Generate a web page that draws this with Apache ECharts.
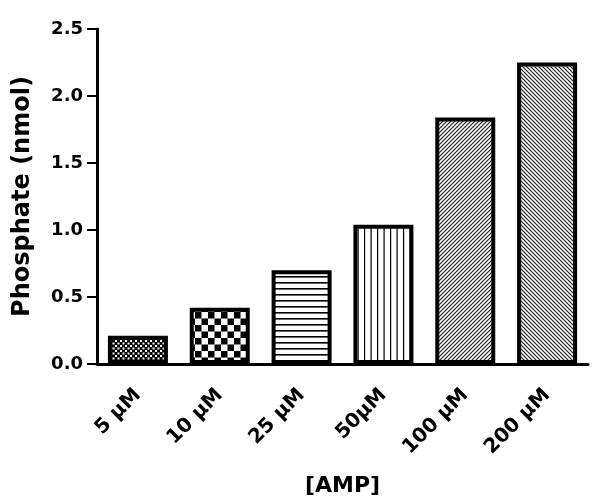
<!DOCTYPE html>
<html>
<head>
<meta charset="utf-8">
<script src="https://cdn.jsdelivr.net/npm/echarts@6/dist/echarts.min.js"></script>
<style>
  html, body { margin: 0; padding: 0; background: #fff; }
  #chart { width: 596px; height: 498px; }
</style>
</head>
<body>
<div id="chart"></div>
<script>
// AMP concentration groups and measured phosphate release
const categories = ['5 µM', '10 µM', '25 µM', '50µM', '100 µM', '200 µM'];
const phosphate = [0.21, 0.42, 0.70, 1.04, 1.84, 2.25];
const patternKinds = ['fineCheck', 'check', 'hLines', 'vLines', 'diagUp', 'diagDown'];

const FONT = '"DejaVu Sans", sans-serif';

// Build a small repeating tile for each bar fill
function makeTile(kind) {
  const c = document.createElement('canvas');
  const ctx = c.getContext('2d');
  if (kind === 'fineCheck') {
    c.width = 5; c.height = 5;
    ctx.fillStyle = '#000'; ctx.fillRect(0, 0, 5, 5);
    ctx.fillStyle = '#fff';
    ctx.fillRect(0, 0, 2, 2);
    ctx.fillRect(2.5, 2.5, 2, 2);
  } else if (kind === 'check') {
    const s = 6.5;
    c.width = 13; c.height = 13;
    ctx.fillStyle = '#fff'; ctx.fillRect(0, 0, 13, 13);
    ctx.fillStyle = '#000';
    ctx.fillRect(0, 0, s, s);
    ctx.fillRect(s, s, s, s);
  } else if (kind === 'hLines') {
    c.width = 6; c.height = 6;
    ctx.fillStyle = '#fff'; ctx.fillRect(0, 0, 6, 6);
    ctx.fillStyle = '#000'; ctx.fillRect(0, 0, 6, 1.6);
  } else if (kind === 'vLines') {
    c.width = 13; c.height = 6;
    ctx.fillStyle = '#fff'; ctx.fillRect(0, 0, 13, 6);
    ctx.fillStyle = '#000';
    ctx.fillRect(0, 0, 1.2, 6);
    ctx.fillRect(6.5, 0, 1.2, 6);
  } else {
    const n = 4;
    c.width = n; c.height = n;
    ctx.fillStyle = '#fff'; ctx.fillRect(0, 0, n, n);
    ctx.strokeStyle = '#222'; ctx.lineWidth = 1.2;
    ctx.beginPath();
    if (kind === 'diagUp') {
      ctx.moveTo(-1, n + 1); ctx.lineTo(n + 1, -1);
      ctx.moveTo(-1, 1); ctx.lineTo(1, -1);
      ctx.moveTo(n - 1, n + 1); ctx.lineTo(n + 1, n - 1);
    } else {
      ctx.moveTo(-1, -1); ctx.lineTo(n + 1, n + 1);
      ctx.moveTo(n - 1, -1); ctx.lineTo(n + 1, 1);
      ctx.moveTo(-1, n - 1); ctx.lineTo(1, n + 1);
    }
    ctx.stroke();
  }
  return c;
}

const barData = phosphate.map((v, i) => ({
  value: v,
  itemStyle: {
    color: { image: makeTile(patternKinds[i]), repeat: 'repeat' }
  }
}));

const chart = echarts.init(document.getElementById('chart'), null, { renderer: 'canvas' });
chart.setOption({
  animation: false,
  backgroundColor: '#fff',
  grid: {
    left: 97, right: 8, top: 29, bottom: 134,
    containLabel: false, outerBoundsMode: 'none'
  },
  xAxis: {
    type: 'category',
    data: categories,
    name: '[AMP]',
    nameLocation: 'middle',
    nameGap: 111,
    nameTextStyle: { fontFamily: FONT, fontWeight: 'bold', fontSize: 22, color: '#000' },
    axisLine: { lineStyle: { color: '#000', width: 3 } },
    axisTick: { alignWithLabel: true, length: 9, lineStyle: { color: '#000', width: 2 } },
    axisLabel: {
      rotate: 45, margin: 28,
      fontFamily: FONT, fontWeight: 'bold', fontSize: 20, color: '#000'
    }
  },
  yAxis: {
    type: 'value',
    min: 0, max: 2.5, interval: 0.5,
    name: 'Phosphate (nmol)',
    nameLocation: 'middle',
    nameGap: 62,
    nameTextStyle: { fontFamily: FONT, fontWeight: 'bold', fontSize: 24, color: '#000' },
    axisLine: { show: true, lineStyle: { color: '#000', width: 3 } },
    axisTick: { show: true, length: 10, lineStyle: { color: '#000', width: 2 } },
    splitLine: { show: false },
    axisLabel: {
      margin: 14,
      formatter: v => v.toFixed(1),
      fontFamily: FONT, fontWeight: 'bold', fontSize: 18, color: '#000'
    }
  },
  series: [{
    type: 'bar',
    data: barData,
    barWidth: 60,
    itemStyle: { borderColor: '#000', borderWidth: 4 }
  }]
});
</script>
</body>
</html>
